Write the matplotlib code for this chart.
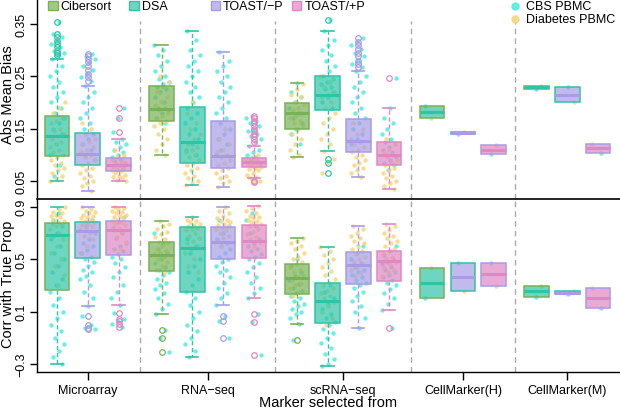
import matplotlib
matplotlib.use('Agg')
import matplotlib.pyplot as plt
import numpy as np
from matplotlib.patches import Rectangle
from matplotlib.lines import Line2D

plt.rcParams['font.family'] = ['Liberation Sans', 'DejaVu Sans']

groups = ['Microarray', 'RNA\u2212seq', 'scRNA\u2212seq', 'CellMarker(H)', 'CellMarker(M)']
group_sizes = [3, 4, 4, 3, 3]
methods = ['Cibersort', 'DSA', 'TOAST/\u2212P', 'TOAST/+P']
datasets = ['CBS PBMC', 'Diabetes PBMC']
# which method colour each box takes (fill) and its border
box_fill = [1, 2, 3, 0, 1, 2, 3, 0, 1, 2, 3, 1, 2, 3, 1, 2, 3]
box_edge = [0, 1, 2, 0, 1, 2, 3, 0, 1, 2, 3, 0, 1, 2, 0, 1, 2]

# ---- Abs Mean Bias ----
bias_lo = [.050, .031, .050, .100, .042, .039, .055, .096, .108, .058, .034, .170, .140, .101, .226, .201, .104]
bias_q1 = [.098, .080, .068, .164, .084, .075, .077, .149, .186, .105, .080, .170, .140, .101, .226, .201, .104]
bias_med = [.1365, .101, .081, .187, .124, .098, .086, .180, .214, .126, .100, .181, .142, .110, .229, .215, .112]
bias_q3 = [.1735, .141, .093, .231, .191, .165, .093, .198, .251, .168, .124, .194, .144, .119, .231, .229, .121]
bias_hi = [.283, .231, .130, .309, .337, .297, .116, .237, .336, .261, .189, .194, .144, .119, .231, .229, .121]
bias_out = [[.354, .331, .326, .318, .312, .306, .298, .295, .290],
            [.293, .288, .283, .278, .270, .262, .255, .248, .241],
            [.189, .170, .144],
            [], [], [],
            [.175, .170, .165, .160, .155, .150, .145, .140, .135, .130, .125, .050, .048],
            [], [.358, .092, .084, .066],
            [.323, .316, .310, .302, .295, .288, .280, .274, .268],
            [.247], [], [], [], [], [], []]
bias_cbs = [
    [.354, .331, .326, .318, .312, .306, .298, .295, .29, .283, .27, .26, .25, .24, .23, .22, .21, .2, .19, .18, .17, .16, .15, .14, .12, .1, .08, .06],
    [.293, .288, .283, .278, .27, .262, .255, .248, .241, .231, .22, .21, .2, .19, .18, .17, .16, .15, .14, .13, .12, .11, .1, .09],
    [.189, .17, .144, .13, .125, .12, .115, .11, .105, .1, .095, .09, .088, .085, .08, .078, .075, .07],
    [.309, .3, .29, .28, .27, .26, .25, .245, .24, .235, .23, .225, .22, .21, .2, .19, .185, .18, .17, .16],
    [.337, .32, .3, .29, .28, .27, .26, .25, .24, .23, .22, .21, .2, .19, .18, .17, .16, .15, .14, .13, .12, .11, .1],
    [.297, .28, .27, .26, .25, .24, .23, .22, .21, .2, .19, .18, .17, .16, .15, .14, .13, .12, .11, .1],
    [.175, .17, .165, .16, .155, .15, .145, .14, .135, .13, .125, .116, .11, .105, .1, .095, .09, .085],
    [.237, .22, .21, .2, .19, .18, .17, .16, .15, .14, .12],
    [.358, .336, .32, .31, .3, .29, .28, .27, .26, .25, .245, .24, .235, .23, .225, .22, .21, .2, .19],
    [.323, .316, .31, .302, .295, .288, .28, .274, .268, .261, .25, .24, .23, .22, .21, .2, .19, .18, .17, .16, .15, .14, .13, .12],
    [.247, .189, .17, .16, .15, .14, .13, .125, .12, .115, .11, .105, .1, .095, .09, .085, .08, .07],
    [.194], [.140], [.101], [.226], [.229], [.104]]
bias_dia = [
    [.2, .19, .18, .17, .165, .16, .15, .145, .14, .135, .13, .125, .12, .115, .11, .105, .1, .095, .09, .085, .08, .075, .07, .065, .06, .055, .05],
    [.16, .15, .14, .13, .125, .12, .115, .11, .105, .1, .095, .09, .085, .08, .075, .07, .065, .06, .055, .05, .045, .04, .031],
    [.11, .1, .095, .09, .087, .085, .083, .08, .078, .075, .073, .07, .068, .065, .062, .06, .057, .055, .052, .05],
    [.25, .24, .23, .22, .21, .2, .195, .19, .185, .18, .175, .17, .165, .16, .155, .15, .14, .13, .12, .11, .1],
    [.2, .18, .16, .15, .14, .13, .12, .115, .11, .105, .1, .095, .09, .085, .08, .075, .07, .065, .06, .055, .05, .045, .042],
    [.15, .13, .12, .11, .105, .1, .095, .09, .085, .08, .075, .07, .065, .06, .055, .05, .045, .039],
    [.1, .095, .092, .09, .088, .086, .084, .082, .08, .078, .076, .074, .072, .07, .066, .062, .058, .055, .05, .048],
    [.235, .225, .215, .21, .2, .195, .19, .185, .18, .175, .17, .165, .16, .155, .15, .14, .13, .12, .11, .1, .096],
    [.25, .24, .23, .22, .215, .21, .2, .19, .18, .17, .16, .15, .14, .13, .12, .108, .092, .084, .066],
    [.16, .15, .14, .13, .125, .12, .115, .11, .105, .1, .095, .09, .085, .08, .075, .07, .065, .058],
    [.13, .12, .11, .105, .1, .095, .09, .085, .08, .075, .07, .065, .06, .055, .05, .045, .04, .034],
    [.170], [.144], [.119], [.231], [.201], [.121]]

# ---- Corr with True Prop ----
corr_lo = [-.30, .145, .150, .082, -.244, .150, .201, .005, -.313, -.025, .114, .201, .260, .295, .209, .234, .125]
corr_q1 = [.267, .506, .531, .410, .252, .499, .506, .234, .010, .310, .333, .201, .260, .295, .209, .234, .125]
corr_med = [.682, .712, .722, .532, .583, .633, .641, .356, .178, .455, .488, .318, .365, .387, .254, .244, .201]
corr_q3 = [.776, .786, .793, .633, .743, .748, .760, .463, .316, .555, .562, .432, .470, .470, .298, .255, .278]
corr_hi = [.900, .900, .900, .793, .824, .895, .908, .659, .590, .755, .768, .432, .470, .470, .298, .255, .278]
corr_out = [[], [.065, 0, -.025, -.035], [.087, .043, .025, .005, -.02], [-.04, -.10, -.208], [],
            [.064, .03, -.10], [.08, .02, -.235], [-.117], [], [], [-.025], [], [], [], [], [], []]
corr_cbs = [
    [.85, .8, .75, .7, .65, .6, .55, .5, .45, .4, .35, .3, .25, .2, .15, .1, .05, 0, -.05, -.1, -.15, -.2, -.25, -.3],
    [.8, .75, .7, .65, .62, .6, .57, .55, .52, .5, .48, .45, .42, .4, .37, .35, .3, .25, .2, .145, .065, 0, -.025, -.035],
    [.82, .78, .74, .7, .66, .62, .6, .58, .56, .54, .52, .5, .47, .44, .4, .36, .3, .25, .2, .15, .087, .043, .025, .005, -.02],
    [.7, .62, .58, .55, .5, .47, .44, .42, .4, .38, .35, .32, .3, .27, .24, .2, .16, .12, .082, -.04, -.1, -.208],
    [.65, .6, .55, .5, .45, .4, .35, .3, .25, .2, .15, .1, .05, 0, -.05, -.1, -.15, -.2, -.244],
    [.8, .75, .7, .65, .62, .6, .58, .55, .52, .5, .48, .45, .42, .4, .36, .32, .28, .24, .2, .15, .064, .03, -.1],
    [.85, .8, .75, .7, .65, .62, .6, .58, .56, .54, .52, .5, .47, .44, .4, .36, .32, .28, .24, .201, .08, .02, -.235],
    [.5, .45, .4, .37, .34, .31, .28, .26, .24, .22, .2, .18, .16, .14, .12, .1, .08, .05, .005, -.117],
    [.3, .25, .2, .16, .12, .08, .05, .02, 0, -.03, -.06, -.1, -.14, -.18, -.22, -.26, -.3, -.313],
    [.6, .55, .5, .47, .44, .42, .4, .38, .36, .34, .32, .3, .28, .25, .22, .18, .14, .1, .05, -.025],
    [.6, .56, .53, .5, .48, .46, .44, .42, .4, .38, .36, .34, .32, .3, .27, .24, .2, .16, .114, -.025],
    [.201], [.470], [.470], [.209], [.234], [.125]]
corr_dia = [
    [.9, .88, .86, .85, .84, .83, .82, .8, .79, .78, .77, .76, .75, .73, .7, .68, .65, .6, .55, .5, .45, .38, .3],
    [.9, .88, .87, .86, .85, .84, .83, .82, .81, .8, .79, .78, .77, .76, .75, .74, .72, .7, .68, .65, .6, .55],
    [.9, .89, .88, .87, .86, .85, .84, .83, .82, .81, .8, .79, .78, .77, .76, .74, .72, .7, .67, .63, .58],
    [.793, .77, .75, .73, .71, .69, .67, .65, .63, .62, .6, .58, .56, .55, .54, .52, .5, .48, .45, .42, .4],
    [.824, .8, .79, .78, .77, .76, .75, .74, .73, .72, .7, .68, .66, .64, .62, .6, .58, .55, .5, .45, .4],
    [.895, .87, .85, .83, .81, .8, .79, .78, .77, .76, .75, .74, .73, .72, .7, .68, .66, .64, .62, .6],
    [.908, .89, .87, .85, .83, .82, .81, .8, .79, .78, .77, .76, .75, .73, .71, .69, .67, .65, .63, .6],
    [.659, .64, .62, .6, .58, .55, .52, .5, .48, .46, .44, .42, .4, .38, .36, .34, .32, .3, .28, .25, .22],
    [.59, .56, .53, .5, .47, .44, .41, .38, .35, .32, .3, .28, .26, .24, .22, .2, .17, .14, .1, .05, 0],
    [.755, .73, .7, .68, .66, .64, .62, .6, .58, .56, .54, .52, .5, .48, .46, .44, .42, .4, .37],
    [.768, .75, .72, .7, .68, .66, .64, .62, .6, .58, .56, .54, .52, .5, .48, .46, .44, .42, .4, .37],
    [.432], [.260], [.295], [.298], [.255], [.278]]

base_cols = ['#78B257', '#2FC4A6', '#A89CE6', '#E088C4']
pt_cols = ['#50EDE0', '#F6D67E']

# x positions: boxes one unit apart, groups separated by a wider gap
pos, centers, dividers = [], [], []
x = 1.0
for gi, n in enumerate(group_sizes):
    p = [x + k for k in range(n)]
    pos += p
    centers.append(np.mean(p))
    x = p[-1] + 1.4
    if gi < len(group_sizes) - 1:
        dividers.append(p[-1] + 0.7)

W, H = 620, 410
fig = plt.figure(figsize=(W / 100, H / 100), dpi=100)
ax1 = fig.add_axes([37 / W, 1 - 199.5 / H, 1 - 37 / W, 199.5 / H])
ax2 = fig.add_axes([37 / W, 1 - 372.7 / H, 1 - 37 / W, (372.7 - 199.5) / H])


def draw_panel(ax, lo, q1, med, q3, hi, out, cbs, dia, ylim, yticks, div_top):
    for d in dividers:
        ax.plot([d, d], [ylim[0], div_top], color='#AAAAAA', lw=1,
                ls=(0, (4, 3)), zorder=0)
    for i, p in enumerate(pos):
        for di, vals in enumerate([cbs[i], dia[i]]):
            n = len(vals)
            jit = (((np.arange(n) + 1) * 0.6180339887 + 0.37 * di + 0.13 * i) % 1.0 - 0.5) * 0.5
            ax.scatter(p + jit, vals, s=10, color=pt_cols[di], alpha=0.85,
                       linewidths=0, zorder=2)
        fc = base_cols[box_fill[i]]
        ec = base_cols[box_edge[i]]
        st = dict(q1=q1[i], med=med[i], q3=q3[i], whislo=lo[i], whishi=hi[i],
                  fliers=out[i])
        ax.bxp([st], positions=[p], widths=0.8, patch_artist=True,
               showcaps=(hi[i] > q3[i]), capwidths=[0.4],
               boxprops=dict(facecolor=matplotlib.colors.to_rgba(fc, 0.7),
                             edgecolor=ec, linewidth=1.1),
               whiskerprops=dict(color=fc, linestyle=(0, (3, 2)), linewidth=1),
               capprops=dict(color=fc, linewidth=1.2),
               medianprops=dict(color=fc, linewidth=2.2),
               flierprops=dict(marker='o', markerfacecolor='none',
                               markeredgecolor=fc, markersize=4,
                               markeredgewidth=0.9),
               manage_ticks=False, zorder=3)
    ax.set_xlim(0.349, 19.31)
    ax.set_ylim(*ylim)
    ax.set_yticks(yticks)
    ax.set_yticklabels([('%g' % t).replace('-', '\u2212') for t in yticks])
    ax.tick_params(axis='y', length=5, width=1, pad=2, labelsize=9,
                   labelrotation=90)
    for lab in ax.get_yticklabels():
        lab.set_va('center')
    for s in ['top', 'right']:
        ax.spines[s].set_visible(False)
    for s in ['left', 'bottom']:
        ax.spines[s].set_linewidth(1)


draw_panel(ax1, bias_lo, bias_q1, bias_med, bias_q3, bias_hi, bias_out,
           bias_cbs, bias_dia, (0.0163, 0.3978), [0.05, 0.15, 0.25, 0.35], 0.355)
draw_panel(ax2, corr_lo, corr_q1, corr_med, corr_q3, corr_hi, corr_out,
           corr_cbs, corr_dia, (-0.3587, 0.9625), [-0.3, 0.1, 0.5, 0.9], 0.9625)
# the line between the two panels
ax1.spines['bottom'].set_visible(False)
ax2.spines['top'].set_visible(True)
ax2.spines['top'].set_linewidth(1.2)
ax2.spines['top'].set_color('black')
ax1.set_xticks([])
ax2.set_xticks(centers)
ax2.set_xticklabels(groups, fontsize=9)
ax2.tick_params(axis='x', length=6, width=1, pad=3)

fig.text(8 / W, 1 - 95 / H, 'Abs Mean Bias', rotation=90, ha='center',
         va='center', fontsize=10.5)
fig.text(8 / W, 1 - 284 / H, 'Corr with True Prop', rotation=90, ha='center',
         va='center', fontsize=10.5)
fig.text(328 / W, 1 - 403 / H, 'Marker selected from', ha='center',
         va='center', fontsize=10.5)

# legends drawn by hand with equal column spacing
for k, m in enumerate(methods):
    x0 = 48 + 81.3 * k
    fig.patches.append(Rectangle((x0 / W, 1 - 11 / H), 9.5 / W, 9 / H,
                                 transform=fig.transFigure,
                                 facecolor=matplotlib.colors.to_rgba(base_cols[k], 0.7),
                                 edgecolor=base_cols[k], lw=1))
    fig.text((x0 + 12.5) / W, 1 - 6.5 / H, m, ha='left', va='center', fontsize=9)
for k, d in enumerate(datasets):
    yy = 1 - (6.5 + 13.5 * k) / H
    fig.add_artist(Line2D([515 / W], [yy], marker='o', color=pt_cols[k],
                          markersize=5, alpha=0.9, lw=0, transform=fig.transFigure))
    fig.text(526 / W, yy, d, ha='left', va='center', fontsize=9)

fig.savefig('out.png', dpi=100)
